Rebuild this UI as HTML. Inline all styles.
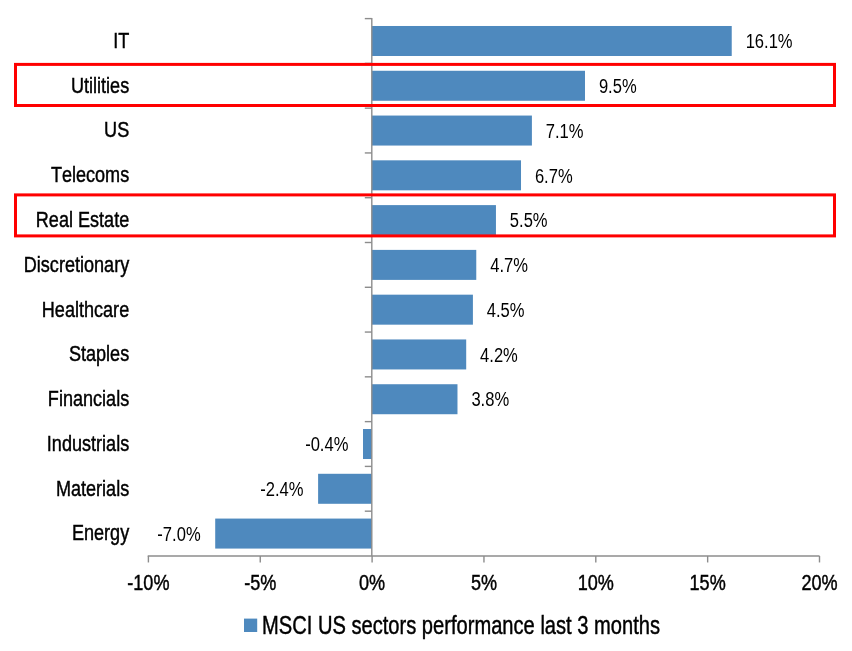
<!DOCTYPE html>
<html lang="en"><head><meta charset="utf-8"><title>MSCI US sectors performance last 3 months</title>
<style>
html,body{margin:0;padding:0;background:#fff;}
body{width:852px;height:651px;overflow:hidden;}
svg text{font-family:"Liberation Sans",sans-serif;font-kerning:none;}
</style></head><body>
<svg width="852" height="651" viewBox="0 0 852 651" style="display:block">
<rect width="852" height="651" fill="#fff"/>
<rect x="371.80" y="25.99" width="359.93" height="30" fill="#4e89be"/>
<text transform="translate(129.20 48.00) scale(0.8 1)" font-size="22.6" text-anchor="end" fill="#000" stroke="#000" stroke-width="0.45">IT</text>
<text transform="translate(745.63 48.19) scale(0.85 1)" font-size="19.5" text-anchor="start" fill="#000" stroke="#000" stroke-width="0">16.1%</text>
<rect x="371.80" y="70.77" width="213.19" height="30" fill="#4e89be"/>
<text transform="translate(129.20 93.00) scale(0.8 1)" font-size="22.6" text-anchor="end" fill="#000" stroke="#000" stroke-width="0.45">Utilities</text>
<text transform="translate(598.89 92.97) scale(0.85 1)" font-size="19.5" text-anchor="start" fill="#000" stroke="#000" stroke-width="0">9.5%</text>
<rect x="371.80" y="115.55" width="160.10" height="30" fill="#4e89be"/>
<text transform="translate(129.20 137.00) scale(0.8 1)" font-size="22.6" text-anchor="end" fill="#000" stroke="#000" stroke-width="0.45">US</text>
<text transform="translate(545.80 137.75) scale(0.85 1)" font-size="19.5" text-anchor="start" fill="#000" stroke="#000" stroke-width="0">7.1%</text>
<rect x="371.80" y="160.33" width="149.21" height="30" fill="#4e89be"/>
<text transform="translate(129.20 182.00) scale(0.8 1)" font-size="22.6" text-anchor="end" fill="#000" stroke="#000" stroke-width="0.45">Telecoms</text>
<text transform="translate(534.91 182.53) scale(0.85 1)" font-size="19.5" text-anchor="start" fill="#000" stroke="#000" stroke-width="0">6.7%</text>
<rect x="371.80" y="205.11" width="124.15" height="30" fill="#4e89be"/>
<text transform="translate(129.20 227.00) scale(0.8 1)" font-size="22.6" text-anchor="end" fill="#000" stroke="#000" stroke-width="0.45">Real Estate</text>
<text transform="translate(509.85 227.31) scale(0.85 1)" font-size="19.5" text-anchor="start" fill="#000" stroke="#000" stroke-width="0">5.5%</text>
<rect x="371.80" y="249.89" width="104.47" height="30" fill="#4e89be"/>
<text transform="translate(129.20 272.00) scale(0.8 1)" font-size="22.6" text-anchor="end" fill="#000" stroke="#000" stroke-width="0.45">Discretionary</text>
<text transform="translate(490.17 272.09) scale(0.85 1)" font-size="19.5" text-anchor="start" fill="#000" stroke="#000" stroke-width="0">4.7%</text>
<rect x="371.80" y="294.67" width="101.11" height="30" fill="#4e89be"/>
<text transform="translate(129.20 317.00) scale(0.8 1)" font-size="22.6" text-anchor="end" fill="#000" stroke="#000" stroke-width="0.45">Healthcare</text>
<text transform="translate(486.81 316.87) scale(0.85 1)" font-size="19.5" text-anchor="start" fill="#000" stroke="#000" stroke-width="0">4.5%</text>
<rect x="371.80" y="339.45" width="94.40" height="30" fill="#4e89be"/>
<text transform="translate(129.20 361.00) scale(0.8 1)" font-size="22.6" text-anchor="end" fill="#000" stroke="#000" stroke-width="0.45">Staples</text>
<text transform="translate(480.10 361.65) scale(0.85 1)" font-size="19.5" text-anchor="start" fill="#000" stroke="#000" stroke-width="0">4.2%</text>
<rect x="371.80" y="384.23" width="85.68" height="30" fill="#4e89be"/>
<text transform="translate(129.20 406.00) scale(0.8 1)" font-size="22.6" text-anchor="end" fill="#000" stroke="#000" stroke-width="0.45">Financials</text>
<text transform="translate(471.38 406.43) scale(0.85 1)" font-size="19.5" text-anchor="start" fill="#000" stroke="#000" stroke-width="0">3.8%</text>
<rect x="363.01" y="429.01" width="8.79" height="30" fill="#4e89be"/>
<text transform="translate(129.20 451.00) scale(0.8 1)" font-size="22.6" text-anchor="end" fill="#000" stroke="#000" stroke-width="0.45">Industrials</text>
<text transform="translate(348.41 451.21) scale(0.85 1)" font-size="19.5" text-anchor="end" fill="#000" stroke="#000" stroke-width="0">-0.4%</text>
<rect x="318.11" y="473.79" width="53.69" height="30" fill="#4e89be"/>
<text transform="translate(129.20 496.00) scale(0.8 1)" font-size="22.6" text-anchor="end" fill="#000" stroke="#000" stroke-width="0.45">Materials</text>
<text transform="translate(303.51 495.99) scale(0.85 1)" font-size="19.5" text-anchor="end" fill="#000" stroke="#000" stroke-width="0">-2.4%</text>
<rect x="215.21" y="518.57" width="156.59" height="30" fill="#4e89be"/>
<text transform="translate(129.20 540.00) scale(0.8 1)" font-size="22.6" text-anchor="end" fill="#000" stroke="#000" stroke-width="0.45">Energy</text>
<text transform="translate(200.61 540.77) scale(0.85 1)" font-size="19.5" text-anchor="end" fill="#000" stroke="#000" stroke-width="0">-7.0%</text>
<g stroke="#8c8c8c" stroke-width="1.4" fill="none">
<line x1="371.8" y1="17.900000000000002" x2="371.8" y2="555.96"/>
<line x1="364.8" y1="18.60" x2="371.8" y2="18.60"/>
<line x1="364.8" y1="63.38" x2="371.8" y2="63.38"/>
<line x1="364.8" y1="108.16" x2="371.8" y2="108.16"/>
<line x1="364.8" y1="152.94" x2="371.8" y2="152.94"/>
<line x1="364.8" y1="197.72" x2="371.8" y2="197.72"/>
<line x1="364.8" y1="242.50" x2="371.8" y2="242.50"/>
<line x1="364.8" y1="287.28" x2="371.8" y2="287.28"/>
<line x1="364.8" y1="332.06" x2="371.8" y2="332.06"/>
<line x1="364.8" y1="376.84" x2="371.8" y2="376.84"/>
<line x1="364.8" y1="421.62" x2="371.8" y2="421.62"/>
<line x1="364.8" y1="466.40" x2="371.8" y2="466.40"/>
<line x1="364.8" y1="511.18" x2="371.8" y2="511.18"/>
<line x1="147.7" y1="555.96" x2="819.5" y2="555.96"/>
<line x1="148.40" y1="555.96" x2="148.40" y2="562.46"/>
<line x1="260.25" y1="555.96" x2="260.25" y2="562.46"/>
<line x1="372.10" y1="555.96" x2="372.10" y2="562.46"/>
<line x1="483.95" y1="555.96" x2="483.95" y2="562.46"/>
<line x1="595.80" y1="555.96" x2="595.80" y2="562.46"/>
<line x1="707.65" y1="555.96" x2="707.65" y2="562.46"/>
<line x1="819.50" y1="555.96" x2="819.50" y2="562.46"/>
</g>
<text transform="translate(148.40 589.60) scale(0.8 1)" font-size="22.6" text-anchor="middle" fill="#000" stroke="#000" stroke-width="0.45">-10%</text>
<text transform="translate(260.25 589.60) scale(0.8 1)" font-size="22.6" text-anchor="middle" fill="#000" stroke="#000" stroke-width="0.45">-5%</text>
<text transform="translate(372.10 589.60) scale(0.8 1)" font-size="22.6" text-anchor="middle" fill="#000" stroke="#000" stroke-width="0.45">0%</text>
<text transform="translate(483.95 589.60) scale(0.8 1)" font-size="22.6" text-anchor="middle" fill="#000" stroke="#000" stroke-width="0.45">5%</text>
<text transform="translate(595.80 589.60) scale(0.8 1)" font-size="22.6" text-anchor="middle" fill="#000" stroke="#000" stroke-width="0.45">10%</text>
<text transform="translate(707.65 589.60) scale(0.8 1)" font-size="22.6" text-anchor="middle" fill="#000" stroke="#000" stroke-width="0.45">15%</text>
<text transform="translate(819.50 589.60) scale(0.8 1)" font-size="22.6" text-anchor="middle" fill="#000" stroke="#000" stroke-width="0.45">20%</text>
<rect x="244" y="618.6" width="13.2" height="13.4" fill="#4e89be"/>
<text transform="translate(262.00 633.60) scale(0.805 1)" font-size="25.0" text-anchor="start" fill="#000" stroke="#000" stroke-width="0.45">MSCI US sectors performance last 3 months</text>
<rect x="15.5" y="64.4" width="819" height="41.10" fill="none" stroke="#ff0000" stroke-width="3"/>
<rect x="15.5" y="194.9" width="819" height="41.00" fill="none" stroke="#ff0000" stroke-width="3"/>
</svg>
</body></html>
